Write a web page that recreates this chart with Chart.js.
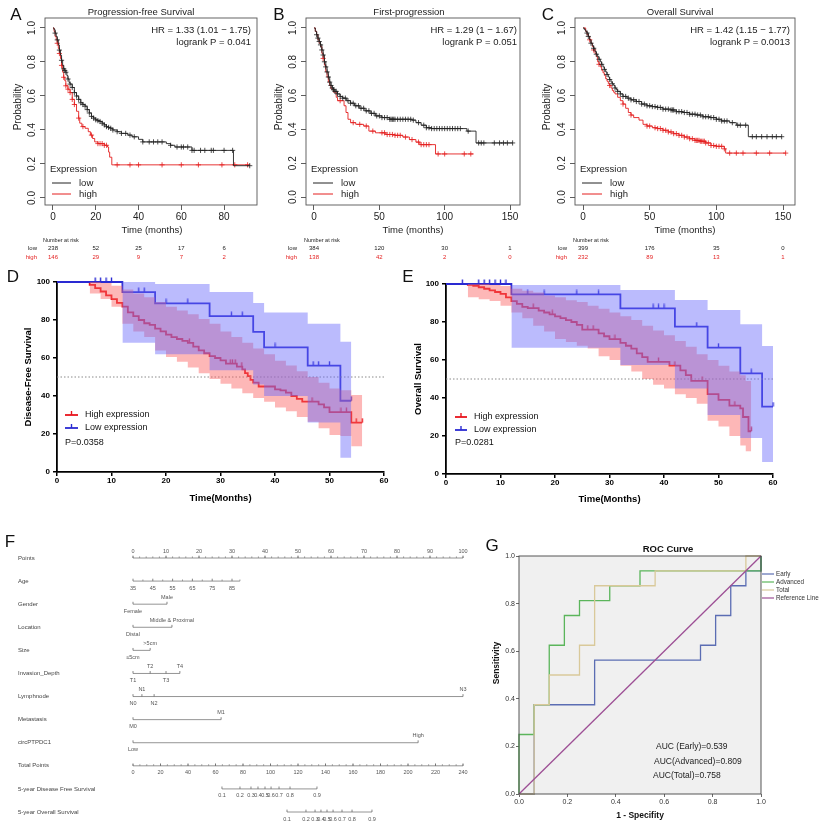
<!DOCTYPE html>
<html><head><meta charset="utf-8">
<script src="https://cdn.jsdelivr.net/npm/chart.js@4.4.1/dist/chart.umd.min.js"></script>
<style>
html,body{margin:0;padding:0;background:#fff;}
#wrap{position:relative;width:824px;height:829px;overflow:hidden;background:#fff;}
canvas{position:absolute;left:0;top:0;width:824px;height:829px;}
</style></head><body><div id="wrap">
<canvas id="cA" width="824" height="829"></canvas>
<canvas id="cB" width="824" height="829"></canvas>
<canvas id="cC" width="824" height="829"></canvas>
<canvas id="cD" width="824" height="829"></canvas>
<canvas id="cE" width="824" height="829"></canvas>
<canvas id="cF" width="824" height="829"></canvas>
<canvas id="cG" width="824" height="829"></canvas>
</div>
<script>
// ================= DATA =================
// Panel A : Progression-free Survival (KM)
const A_xTicks = [0, 20, 40, 60, 80];
const A_lowT = [0,0.5,1,1.5,2,2.5,3,3.5,4,4.5,5,5.5,6,6.5,7,7.5,8,9,10,11,12,13,14,15,16,17,18,19,20,21,22,23,24,25,26,27,28,30,32,35,37,40,42,53,55,57,65,84.4,92];
const A_lowS = [1,0.99,0.97,0.95,0.93,0.9,0.87,0.84,0.81,0.78,0.76,0.75,0.74,0.72,0.7,0.68,0.67,0.65,0.62,0.6,0.58,0.56,0.55,0.54,0.52,0.5,0.48,0.47,0.46,0.455,0.45,0.44,0.43,0.42,0.415,0.41,0.4,0.39,0.38,0.37,0.36,0.345,0.33,0.32,0.31,0.3,0.28,0.19,0.19];
const A_lowCens = [1,2,3,4,5,5.5,6,7,8,9,10,11,12,13,14,15,16,17,18,19,20,21,22,23,24,25,26,27,28,30,32,34,36,38,42,45,47,49,51,55,58,60,61,63,65,66,69,71,74,75,80,84,92];
const A_highT = [0,0.5,1,1.5,2,2.5,3,3.5,4,4.5,5,5.5,6,7,8,9,10,11,12,12.5,13.5,15,16.5,17.5,18.5,19.5,21,24,25.5,26,26.5,27.5,92];
const A_highS = [1,0.98,0.95,0.93,0.91,0.88,0.85,0.82,0.78,0.74,0.71,0.69,0.66,0.64,0.62,0.58,0.55,0.51,0.47,0.44,0.42,0.41,0.39,0.37,0.35,0.33,0.32,0.31,0.3,0.27,0.24,0.195,0.195];
const A_highCens = [2,3,4,5,6,7,8,9,10,12,14,18,21,22,23,24,25,30,36,40,51,60,68,79,85,91];
const A_riskLow = [238, 52, 25, 17, 6];
const A_riskHigh = [146, 29, 9, 7, 2];

// Panel B : First-progression (KM)
const B_xTicks = [0, 50, 100, 150];
const B_lowT = [0,1,2,3,4,5,6,7,8,9,10,11,12,13,14,15,16,18,20,22,25,28,31,35,39,43,47,52,58,75,78,82,86,90,117,124,152];
const B_lowS = [1,0.98,0.96,0.94,0.92,0.9,0.87,0.84,0.8,0.77,0.74,0.71,0.68,0.66,0.645,0.635,0.625,0.61,0.595,0.585,0.57,0.555,0.54,0.525,0.51,0.495,0.48,0.47,0.46,0.455,0.44,0.425,0.41,0.405,0.39,0.32,0.32];
const B_lowCens = [2,3,4,5,6,7,8,9,10,11,12,13,14,15,16,17,18,20,22,24,26,28,30,32,34,36,38,40,42,44,46,48,50,52,54,56,58,59,60,61,62,64,66,68,70,72,74,76,80,84,86,88,90,92,94,96,98,100,102,104,106,108,110,112,118,126,128,130,138,142,145,148,152];
const B_highT = [0,1,2,3,4,5,6,7,8,9,10,11,12,13,15,17,18,23,24.5,26,28,32,38,42,47,55,62,68,73,78,81,93,122];
const B_highS = [1,0.98,0.96,0.93,0.91,0.89,0.85,0.82,0.78,0.74,0.71,0.68,0.66,0.64,0.62,0.59,0.57,0.54,0.5,0.46,0.44,0.43,0.42,0.39,0.38,0.37,0.365,0.355,0.34,0.325,0.31,0.255,0.255];
const B_highCens = [7,20,30,35,40,45,52,54,56,58,60,62,64,66,70,75,80,82,84,86,88,95,100,115,120];
const B_riskLow = [384, 120, 30, 1];
const B_riskHigh = [138, 42, 2, 0];

// Panel C : Overall Survival (KM)
const C_xTicks = [0, 50, 100, 150];
const C_lowT = [0,1,2,3,4,5,6,7,8,9,10,11,12,13,14,15,16,17,18,19,20,21,22,23,24,25,26,28,30,33,36,40,44,48,52,56,60,66,70,75,80,85,90,95,100,104,110,115,124,149];
const C_lowS = [1,0.99,0.98,0.97,0.95,0.93,0.91,0.895,0.88,0.86,0.845,0.83,0.815,0.8,0.785,0.77,0.755,0.74,0.725,0.71,0.695,0.68,0.67,0.66,0.645,0.635,0.625,0.61,0.595,0.585,0.575,0.565,0.55,0.54,0.535,0.53,0.52,0.515,0.505,0.5,0.49,0.485,0.475,0.47,0.46,0.45,0.44,0.425,0.357,0.357];
const C_lowCens = [3,4,6,8,10,12,14,16,18,20,22,24,26,28,30,32,34,36,38,40,42,44,46,48,50,52,54,56,58,60,62,64,66,67,68,70,72,74,76,78,80,82,84,86,88,90,92,94,96,98,100,102,104,106,108,112,116,118,122,127,130,134,138,142,145,149];
const C_highT = [0,2,3,4,5,6,7,8,9,10,11,12,13,14,15,16,17,18,19,20,21,22,23,24,26,28,30,32,34,36,38,42,45,48,52,56,60,64,68,72,76,80,84,88,92,96,100,106,107,152];
const C_highS = [1,0.98,0.96,0.95,0.93,0.91,0.89,0.87,0.85,0.83,0.8,0.785,0.77,0.75,0.735,0.72,0.7,0.685,0.67,0.66,0.645,0.63,0.62,0.61,0.59,0.57,0.55,0.525,0.5,0.485,0.47,0.455,0.43,0.42,0.41,0.405,0.395,0.385,0.375,0.365,0.355,0.345,0.335,0.33,0.32,0.305,0.3,0.285,0.26,0.26];
const C_highCens = [5,8,12,20,30,36,48,50,54,56,58,60,62,64,66,68,70,72,74,76,78,80,82,84,85,86,87,88,89,90,91,92,94,96,98,100,102,104,106,110,115,120,130,140,152];
const C_riskLow = [399, 176, 35, 0];
const C_riskHigh = [232, 89, 13, 1];

// Panel D : Disease-Free Survival (%)
const D_xTicks = [0, 10, 20, 30, 40, 50, 60];
const D_yTicks = [0, 20, 40, 60, 80, 100];
const D_lowT = [0,12,18,28,36,38,46,52,54];
const D_lowS = [100,94.7,88.8,82,73.7,65.6,56,37.5,37.5];
const D_lowCens = [7,8,9,10,15,16,20,24,32,34,40,47,48,50,54];
const D_lowBandT = [12,18,28,36,38,46,52,54];
const D_lowUpper = [100,99,94.8,89,84,78,68.5,68.5];
const D_lowLower = [68,62,53.5,46,40,26,7.5,7.5];
const D_highT = [0,6,7,8,9,10,11,12,13,14,15,16,17,18,19,20,21,22,23,24,25,26,27,28,29,30,31,33,34,34.5,35,35.5,36,37,40,41,42,43,44,45,48,49,50,54,56];
const D_highS = [100,98.5,96.8,95,93,91,89,87,84,82,80,78.3,77.4,75.5,74,72.3,71,70,69,68,66,64,62.5,61,60,58.7,57,55.5,54,52,50.5,48.5,47,45,43.5,43,41.8,40,38.5,37,35.6,34,31.5,26,26];
const D_highCens = [24.3,31.8,32.2,32.7,33.9,46.8,52.1,53.1,54.9,56];
const D_highBandT = [6,8,10,12,14,16,18,20,22,24,26,28,30,32,34,36,38,40,42,44,46,48,50,52,54,56];
const D_highUpper = [100,99.5,98,96,94,92,89.5,87,85,83,80.5,78,74,71,68,65,62,58.5,56,53,50,47,44,43,40.5,40.5];
const D_highLower = [94,91,87,78,74,71,64,60.5,58,55,52,49,46.5,44,41.5,39,37,34,32,29,26.5,23,19.5,19,13.5,13.5];
const D_median = 50;

// Panel E : Overall Survival (%)
const E_xTicks = [0, 10, 20, 30, 40, 50, 60];
const E_yTicks = [0, 20, 40, 60, 80, 100];
const E_lowT = [0,12,32,42,48,54,58,60];
const E_lowS = [100,94.5,87.2,77.6,66.5,53,35.5,35.5];
const E_lowCens = [3,6,7,8,9,10,11,15,18,24,28,38,39,40,46,50,56,60];
const E_lowBandT = [12,32,42,48,54,58,60];
const E_lowUpper = [99.5,96.8,91.6,86.3,78.8,67.4,67.4];
const E_lowLower = [66.5,57.4,45,31,19,6.3,6.3];
const E_highT = [0,4,5,6,7,8,9,10,11,12,13,14,15,17,18,19,20,21,22,23,24,25,28,29,30,32,33,34,35,36,37,41,43,44,45,48,50,52,54,54.5,55.5,56];
const E_highS = [100,99.5,99,98.3,97.5,96.6,95.8,94.8,93,91,89.5,88,87.3,86,85,84,83,82,81,80,78.5,76,74,72.5,71,69,67.5,66,63.5,61.5,59,57,54.5,52,49,42,39,36,34.5,30,22.5,22.5];
const E_highCens = [16,19.5,26,27,31,39,42,47,53,56];
const E_highBandT = [4,6,8,10,12,14,16,18,20,22,24,26,28,30,32,34,36,38,40,42,44,46,48,50,52,54,55,56];
const E_highUpper = [100,100,99.5,99,97.5,96.5,95.5,94,93,91.5,90.5,88.5,87,85,83,81,78,75.5,73,70,67,63,60,57,54,52,49,49];
const E_highLower = [93,92,91,88.5,85,82,78,75,71,69.5,67.5,66,62,60,57,54,50,47,45,42,40,37,28,25,20,15,12,8];
const E_median = 50;

// Panel F : Nomogram
const nomoRows = ['Points','Age','Gender','Location','Size','Invasion_Depth','Lymphnode','Metastasis','circPTPDC1','Total Points','5-year Disease Free Survival','5-year Overall Survival'];
const pointsTicks = [0,10,20,30,40,50,60,70,80,90,100];
const ageLabels = [35,45,55,65,75,85];
const agePoints = [0,6,12,18,24,30];
const ageMinorPoints = [3,9,15,21,27,32.4];
const genderLabels = ['Female','Male'];
const genderPoints = [0,10.3];
const locationLabels = ['Distal','Middle & Proximal'];
const locationPoints = [0,11.8];
const sizeLabels = ['\u22645cm','>5cm'];
const sizePoints = [0,5.2];
const invasionLabels = ['T1','T2','T3','T4'];
const invasionPoints = [0,5.2,10,14.2];
const lymphLabels = ['N0','N1','N2','N3'];
const lymphPoints = [0,2.7,6.4,100];
const metaLabels = ['M0','M1'];
const metaPoints = [0,26.7];
const circLabels = ['Low','High'];
const circPoints = [0,86.4];
const totalTicks = [0,20,40,60,80,100,120,140,160,180,200,220,240];
const totalMax = 240;
const dfsLabels = ['0.1','0.2','0.3','0.4','0.5','0.6','0.7','0.8','0.9'];
const dfsTotals = [64.7,77.8,85.8,90.9,96,100.4,106.2,114.2,133.8];
const osLabels = ['0.1','0.2','0.3','0.4','0.5','0.6','0.7','0.8','0.9'];
const osTotals = [112,125.8,132.4,136.7,141.1,145.5,152,159.3,173.8];

// Panel G : ROC curve
const rocTicks = [0, 0.2, 0.4, 0.6, 0.8, 1.0];
const rocNames = ['Early','Advanced','Total','Reference Line'];
const rocEarlyX = [0,0.0625,0.0625,0.3125,0.3125,0.75,0.75,0.8125,0.8125,0.875,0.875,0.9375,0.9375,1,1];
const rocEarlyY = [0,0,0.375,0.375,0.5625,0.5625,0.625,0.625,0.75,0.75,0.875,0.875,0.9375,0.9375,1];
const rocAdvX = [0,0,0.0625,0.0625,0.125,0.125,0.1875,0.1875,0.25,0.25,0.375,0.375,0.5,0.5,1,1];
const rocAdvY = [0,0.25,0.25,0.375,0.375,0.625,0.625,0.75,0.75,0.8125,0.8125,0.875,0.875,0.9375,0.9375,1];
const rocTotX = [0,0.0625,0.0625,0.125,0.125,0.25,0.25,0.3125,0.3125,0.5625,0.5625,0.9375,0.9375,1];
const rocTotY = [0,0,0.375,0.375,0.5,0.5,0.625,0.625,0.875,0.875,0.9375,0.9375,1,1];
const rocRefX = [0,1];
const rocRefY = [0,1];
const aucTexts = ['AUC (Early)=0.539','AUC(Advanced)=0.809','AUC(Total)=0.758'];

// ================= HELPERS =================
const FONT = "'Liberation Sans', Arial, Helvetica, sans-serif";
const W = 824, H = 829;
const f = (s, w) => (w ? w + ' ' : '') + s + 'px ' + FONT;
Chart.defaults.font.family = FONT;
Chart.defaults.animation = false;
Chart.defaults.plugins.legend.display = false;
Chart.defaults.plugins.tooltip.enabled = false;
Chart.defaults.responsive = false;
Chart.defaults.maintainAspectRatio = false;

// KM step: horizontal to the event time, then drop
const STEP = 'before';

// a = target chart area [left, top, right, bottom]; wy/hx = reserved axis sizes
function pad(a, wy, hx){ return {left:a[0]-(wy||0), top:a[1], right:W-a[2], bottom:H-a[3]-(hx||0)}; }
function stepAt(T,S,t){ let v=S[0]; for(let i=0;i<T.length;i++){ if(T[i]<=t) v=S[i]; else break; } return v; }
function pts(X,Y){ return X.map((x,i)=>({x:x,y:Y[i]})); }
function txt(ctx,s,x,y,font,color,align,base,rot){
  ctx.save(); ctx.font=font; ctx.fillStyle=color||'#222';
  ctx.textAlign=align||'center'; ctx.textBaseline=base||'middle';
  ctx.translate(x,y); if(rot) ctx.rotate(rot); ctx.fillText(s,0,0); ctx.restore();
}
function seg(ctx,x1,y1,x2,y2,color,w,dash){
  ctx.save(); ctx.strokeStyle=color; ctx.lineWidth=w||1; if(dash) ctx.setLineDash(dash);
  ctx.beginPath(); ctx.moveTo(x1,y1); ctx.lineTo(x2,y2); ctx.stroke(); ctx.restore();
}
const fixTicks = arr => s => { s.ticks = arr.map(v=>({value:v})); };

// ================= KM (A, B, C) =================
const KBLACK = '#222222', KRED = '#e41f1f';
function kmChart(P){
  const line = (T,S,c) => ({data:pts(T,S), showLine:true, stepped:STEP, borderColor:c, borderWidth:0.9, pointRadius:0, fill:false, clip:false});
  const cens = (T,S,C,c) => ({data:C.map(t=>({x:t,y:stepAt(T,S,t)})), showLine:false, pointStyle:'cross', pointRadius:2.6, borderColor:c, borderWidth:0.8, clip:false});
  const WY = 25, HX = 22;
  new Chart(document.getElementById(P.id), {
    type:'scatter',
    data:{datasets:[
      line(P.lowT,P.lowS,KBLACK), cens(P.lowT,P.lowS,P.lowC,KBLACK),
      line(P.highT,P.highS,KRED), cens(P.highT,P.highS,P.highC,KRED)
    ]},
    options:{
      layout:{padding:pad(P.area,WY,HX)},
      scales:{
        x:{type:'linear', min:P.xr[0], max:P.xr[1], afterFit:s=>{s.height=HX;}, afterBuildTicks:fixTicks(P.xTicks),
           border:{display:false}, grid:{drawOnChartArea:false, drawTicks:true, tickLength:5, color:'#333', lineWidth:0.8},
           ticks:{font:{size:10}, color:'#222', padding:1, maxRotation:0, autoSkip:false}},
        y:{type:'linear', min:P.yr[0], max:P.yr[1], afterFit:s=>{s.width=WY;}, afterBuildTicks:fixTicks([0,0.2,0.4,0.6,0.8,1.0]),
           border:{display:false}, grid:{drawOnChartArea:false, drawTicks:true, tickLength:5, color:'#333', lineWidth:0.8},
           ticks:{display:false}}
      }
    },
    plugins:[{id:'km'+P.id, afterDraw(chart){
      const ctx=chart.ctx, a=chart.chartArea, xs=chart.scales.x, ys=chart.scales.y;
      ctx.save(); ctx.strokeStyle='#555'; ctx.lineWidth=0.9; ctx.strokeRect(a.left,a.top,a.right-a.left,a.bottom-a.top); ctx.restore();
      [0,0.2,0.4,0.6,0.8,1.0].forEach(v=>txt(ctx,v.toFixed(1),a.left-12.5,ys.getPixelForValue(v),f(10),'#222','center','middle',-Math.PI/2));
      txt(ctx,P.title,P.titleX,12,f(9.5),'#222');
      txt(ctx,P.hr[0],P.hrX,30,f(9.5),'#222','right');
      txt(ctx,P.hr[1],P.hrX,42.5,f(9.5),'#222','right');
      txt(ctx,'Probability',P.ylabX,107,f(10),'#222','center','middle',-Math.PI/2);
      txt(ctx,'Time (months)',P.xlabX,230,f(9.5),'#222');
      txt(ctx,'Expression',P.legX,169,f(9.5),'#222','left');
      seg(ctx,P.legLine[0],183,P.legLine[1],183,KBLACK,1);
      seg(ctx,P.legLine[0],194,P.legLine[1],194,KRED,1);
      txt(ctx,'low',P.legTextX,183,f(9.5),'#222','left');
      txt(ctx,'high',P.legTextX,194,f(9.5),'#222','left');
      txt(ctx,'Number at risk',a.left-2,240,f(5.5),'#222','left');
      txt(ctx,'low',P.riskLabX,248.5,f(6),'#222','right');
      txt(ctx,'high',P.riskLabX,257,f(6),KRED,'right');
      P.xTicks.forEach((t,i)=>{
        txt(ctx,String(P.riskLow[i]),xs.getPixelForValue(t),248.5,f(6),'#222');
        txt(ctx,String(P.riskHigh[i]),xs.getPixelForValue(t),257,f(6),KRED);
      });
      txt(ctx,P.letter,P.letterX,15,f(17),'#111');
    }}]
  });
}
kmChart({id:'cA', area:[45,18,257,205], xr:[-3.74,95.4], yr:[-0.0412,1.0588], xTicks:A_xTicks,
  lowT:A_lowT, lowS:A_lowS, lowC:A_lowCens, highT:A_highT, highS:A_highS, highC:A_highCens,
  riskLow:A_riskLow, riskHigh:A_riskHigh, title:'Progression-free Survival', titleX:141,
  hr:['HR = 1.33 (1.01 \u2212 1.75)','logrank P = 0.041'], hrX:251, ylabX:18, xlabX:152,
  legX:50, legLine:[52,71], legTextX:79, riskLabX:37, letter:'A', letterX:16});
kmChart({id:'cB', area:[306,18,520,205], xr:[-6.12,157.65], yr:[-0.047,1.059], xTicks:B_xTicks,
  lowT:B_lowT, lowS:B_lowS, lowC:B_lowCens, highT:B_highT, highS:B_highS, highC:B_highCens,
  riskLow:B_riskLow, riskHigh:B_riskHigh, title:'First-progression', titleX:409,
  hr:['HR = 1.29 (1 \u2212 1.67)','logrank P = 0.051'], hrX:517, ylabX:279, xlabX:413,
  legX:311, legLine:[313,333], legTextX:341, riskLabX:297, letter:'B', letterX:279});
kmChart({id:'cC', area:[575,18,795,205], xr:[-6,159], yr:[-0.047,1.059], xTicks:C_xTicks,
  lowT:C_lowT, lowS:C_lowS, lowC:C_lowCens, highT:C_highT, highS:C_highS, highC:C_highCens,
  riskLow:C_riskLow, riskHigh:C_riskHigh, title:'Overall Survival', titleX:680,
  hr:['HR = 1.42 (1.15 \u2212 1.77)','logrank P = 0.0013'], hrX:790, ylabX:547, xlabX:685,
  legX:580, legLine:[582,602], legTextX:610, riskLabX:567, letter:'C', letterX:548});

// ================= GraphPad KM (D, E) =================
const GRED = '#e8141c', GBLUE = '#2a2ad2';
function tickImg(color){
  const c=document.createElement('canvas'); c.width=3; c.height=10;
  const x=c.getContext('2d'); x.strokeStyle=color; x.lineWidth=1.4;
  x.beginPath(); x.moveTo(1.5,0.5); x.lineTo(1.5,5); x.stroke(); return c;
}
const TICK_R = tickImg(GRED), TICK_B = tickImg(GBLUE);
function gpChart(P){
  const band = (T,U,L,c) => [
    {data:pts(T,U), showLine:true, stepped:STEP, borderWidth:0, pointRadius:0, fill:'+1', backgroundColor:c, borderColor:'rgba(0,0,0,0)'},
    {data:pts(T,L), showLine:true, stepped:STEP, borderWidth:0, pointRadius:0, fill:false, borderColor:'rgba(0,0,0,0)'}
  ];
  const line = (T,S,c) => ({data:pts(T,S), showLine:true, stepped:STEP, borderColor:c, borderWidth:1.8, pointRadius:0, fill:false, clip:false});
  const cens = (T,S,C,img) => ({data:C.map(t=>({x:t,y:stepAt(T,S,t)})), showLine:false, pointStyle:img, pointRadius:3, clip:false});
  const xMax = P.xTicks[P.xTicks.length-1];
  const ds = [
    ...band(P.lowBandT,P.lowU,P.lowL,'rgba(105,105,250,0.45)'),
    ...band(P.highBandT,P.highU,P.highL,'rgba(250,95,95,0.45)'),
    {data:[{x:0,y:P.median},{x:xMax,y:P.median}], showLine:true, borderColor:'#8a8a8a', borderWidth:1, borderDash:[1.5,2], pointRadius:0, fill:false},
    line(P.lowT,P.lowS,GBLUE), cens(P.lowT,P.lowS,P.lowC,TICK_B),
    line(P.highT,P.highS,GRED), cens(P.highT,P.highS,P.highC,TICK_R)
  ];
  const WY = 30, HX = 18;
  const axis = (ticks, isX) => ({type:'linear', min:ticks[0], max:ticks[ticks.length-1],
    afterFit: isX ? (s=>{s.height=HX;}) : (s=>{s.width=WY;}), afterBuildTicks:fixTicks(ticks),
    border:{display:true, color:'#000', width:1.8},
    grid:{drawOnChartArea:false, drawTicks:true, tickLength:4, color:'#000', lineWidth:1.5},
    ticks:{font:{size:8, weight:'bold'}, color:'#000', padding:isX?0:3, maxRotation:0, autoSkip:false}});
  new Chart(document.getElementById(P.id), {
    type:'scatter', data:{datasets:ds},
    options:{layout:{padding:pad(P.area,WY,HX)}, scales:{x:axis(P.xTicks,true), y:axis(P.yTicks,false)}},
    plugins:[{id:'gp'+P.id, afterDraw(chart){
      const ctx=chart.ctx, a=chart.chartArea;
      txt(ctx,'Time(Months)',(a.left+a.right)/2,P.xlabY,f(9.5,'bold'),'#000');
      txt(ctx,P.ylab,P.ylabX,(a.top+a.bottom)/2,f(9.5,'bold'),'#000','center','middle',-Math.PI/2);
      const lx=P.leg[0], lx2=P.leg[1];
      seg(ctx,lx,P.legY[0],lx2,P.legY[0],GRED,1.8); seg(ctx,(lx+lx2)/2,P.legY[0],(lx+lx2)/2,P.legY[0]-4,GRED,1.4);
      seg(ctx,lx,P.legY[1],lx2,P.legY[1],GBLUE,1.8); seg(ctx,(lx+lx2)/2,P.legY[1],(lx+lx2)/2,P.legY[1]-4,GBLUE,1.4);
      txt(ctx,'High expression',P.leg[2],P.legY[0],f(9),'#111','left');
      txt(ctx,'Low expression',P.leg[2],P.legY[1],f(9),'#111','left');
      txt(ctx,P.ptext,lx,P.legY[2],f(9),'#111','left');
      txt(ctx,P.letter,P.letterX,277,f(17),'#111');
    }}]
  });
}
gpChart({id:'cD', area:[57,282,384,472], xTicks:D_xTicks, yTicks:D_yTicks,
  lowT:D_lowT, lowS:D_lowS, lowC:D_lowCens, lowBandT:D_lowBandT, lowU:D_lowUpper, lowL:D_lowLower,
  highT:D_highT, highS:D_highS, highC:D_highCens, highBandT:D_highBandT, highU:D_highUpper, highL:D_highLower,
  median:D_median, ylab:'Disease-Free Survival', ylabX:28, xlabY:498, leg:[65,78,85], legY:[415,428,443],
  ptext:'P=0.0358', letter:'D', letterX:13});
gpChart({id:'cE', area:[446,284,773,474], xTicks:E_xTicks, yTicks:E_yTicks,
  lowT:E_lowT, lowS:E_lowS, lowC:E_lowCens, lowBandT:E_lowBandT, lowU:E_lowUpper, lowL:E_lowLower,
  highT:E_highT, highS:E_highS, highC:E_highCens, highBandT:E_highBandT, highU:E_highUpper, highL:E_highLower,
  median:E_median, ylab:'Overall Survival', ylabX:418, xlabY:499, leg:[455,467,474], legY:[417,430,443],
  ptext:'P=0.0281', letter:'E', letterX:408});

// ================= Nomogram (F) =================
function mk(labels, p, side, minor){
  const all = p.concat(minor||[]);
  return {labels:labels.map(String), p:p, side:side, minor:minor||[], lo:Math.min(...all), hi:Math.max(...all)};
}
const range = (a,b,s) => { const r=[]; for(let v=a; v<=b+1e-9; v+=s) r.push(v); return r; };
const toPts = v => v*100/totalMax;
const nomo = [
  mk(pointsTicks, pointsTicks, 'above', range(0,100,2)),
  mk(ageLabels, agePoints, 'below', ageMinorPoints),
  mk(genderLabels, genderPoints, ['below','above']),
  mk(locationLabels, locationPoints, ['below','above']),
  mk(sizeLabels, sizePoints, ['below','above']),
  mk(invasionLabels, invasionPoints, ['below','above','below','above']),
  mk(lymphLabels, lymphPoints, ['below','above','below','above']),
  mk(metaLabels, metaPoints, ['below','above']),
  mk(circLabels, circPoints, ['below','above']),
  mk(totalTicks, totalTicks.map(toPts), 'below', range(0,totalMax,5).map(toPts)),
  mk(dfsLabels, dfsTotals.map(toPts), 'below'),
  mk(osLabels, osTotals.map(toPts), 'below')
];
new Chart(document.getElementById('cF'), {
  type:'scatter',
  data:{datasets: nomo.map((s,i)=>({data:[{x:s.lo,y:i},{x:s.hi,y:i}], showLine:true, borderColor:'#7a7a7a', borderWidth:0.8, pointRadius:0, fill:false, clip:false}))},
  options:{layout:{padding:pad([133,558,463,812])},
    scales:{x:{type:'linear', min:0, max:100, display:false}, y:{type:'linear', min:0, max:nomoRows.length-1, reverse:true, display:false}}},
  plugins:[{id:'nomo', afterDraw(chart){
    const ctx=chart.ctx, xs=chart.scales.x, ys=chart.scales.y;
    nomoRows.forEach((name,i)=>{
      const y=ys.getPixelForValue(i), s=nomo[i];
      txt(ctx,name,18,y,f(6),'#444','left');
      s.minor.forEach(p=>{ const x=xs.getPixelForValue(p); seg(ctx,x,y,x,y-1.6,'#777',0.7); });
      s.p.forEach((p,k)=>{
        const x=xs.getPixelForValue(p);
        seg(ctx,x,y,x,y-2.4,'#666',0.8);
        const side = Array.isArray(s.side) ? s.side[k] : s.side;
        txt(ctx,s.labels[k],x,side==='above'?y-7:y+7,f(5.5),'#555');
      });
    });
    txt(ctx,'F',10,542,f(17),'#111');
  }}]
});

// ================= ROC (G) =================
const rocColors = ['#5b6db3','#5bb55b','#d9c99a','#9d4f95'];
const rocSets = [[rocEarlyX,rocEarlyY],[rocAdvX,rocAdvY],[rocTotX,rocTotY],[rocRefX,rocRefY]];
const GWY = 22, GHX = 14;
new Chart(document.getElementById('cG'), {
  type:'scatter',
  data:{datasets: rocSets.map((s,i)=>({label:rocNames[i], data:pts(s[0],s[1]), showLine:true, borderColor:rocColors[i], borderWidth:1.3, pointRadius:0, fill:false, order:4-i, clip:false}))},
  options:{layout:{padding:pad([519,556,761,794],GWY,GHX)},
    scales:{
      x:{type:'linear', min:0, max:1, afterFit:s=>{s.height=GHX;}, afterBuildTicks:fixTicks(rocTicks), border:{display:false},
         grid:{drawOnChartArea:false, drawTicks:true, tickLength:3, color:'#444', lineWidth:0.8},
         ticks:{font:{size:7}, color:'#333', padding:1, maxRotation:0, autoSkip:false, callback:v=>Number(v).toFixed(1)}},
      y:{type:'linear', min:0, max:1, afterFit:s=>{s.width=GWY;}, afterBuildTicks:fixTicks(rocTicks), border:{display:false},
         grid:{drawOnChartArea:false, drawTicks:true, tickLength:3, color:'#444', lineWidth:0.8},
         ticks:{font:{size:7}, color:'#333', padding:1, autoSkip:false, callback:v=>Number(v).toFixed(1)}}
    }},
  plugins:[{id:'roc',
    beforeDatasetsDraw(chart){ const ctx=chart.ctx, a=chart.chartArea; ctx.save(); ctx.fillStyle='#f0f0f0'; ctx.fillRect(a.left,a.top,a.right-a.left,a.bottom-a.top); ctx.restore(); },
    afterDraw(chart){
      const ctx=chart.ctx, a=chart.chartArea;
      ctx.save(); ctx.strokeStyle='#444'; ctx.lineWidth=0.9; ctx.strokeRect(a.left,a.top,a.right-a.left,a.bottom-a.top); ctx.restore();
      txt(ctx,'ROC Curve',668,549,f(9.5,'bold'),'#111');
      txt(ctx,'Sensitivity',497,663,f(8.5,'bold'),'#111','center','middle',-Math.PI/2);
      txt(ctx,'1 - Specifity',640,816,f(8.5,'bold'),'#111');
      rocNames.forEach((n,i)=>{ const y=574+i*8; seg(ctx,762,y,774,y,rocColors[i],1.2); txt(ctx,n,776,y,f(6.3),'#333','left'); });
      txt(ctx,aucTexts[0],656,747,f(8.5),'#222','left');
      txt(ctx,aucTexts[1],654,761.5,f(8.5),'#222','left');
      txt(ctx,aucTexts[2],653,776,f(8.5),'#222','left');
      txt(ctx,'G',492,546,f(17),'#111');
    }}]
});
</script></body></html>
